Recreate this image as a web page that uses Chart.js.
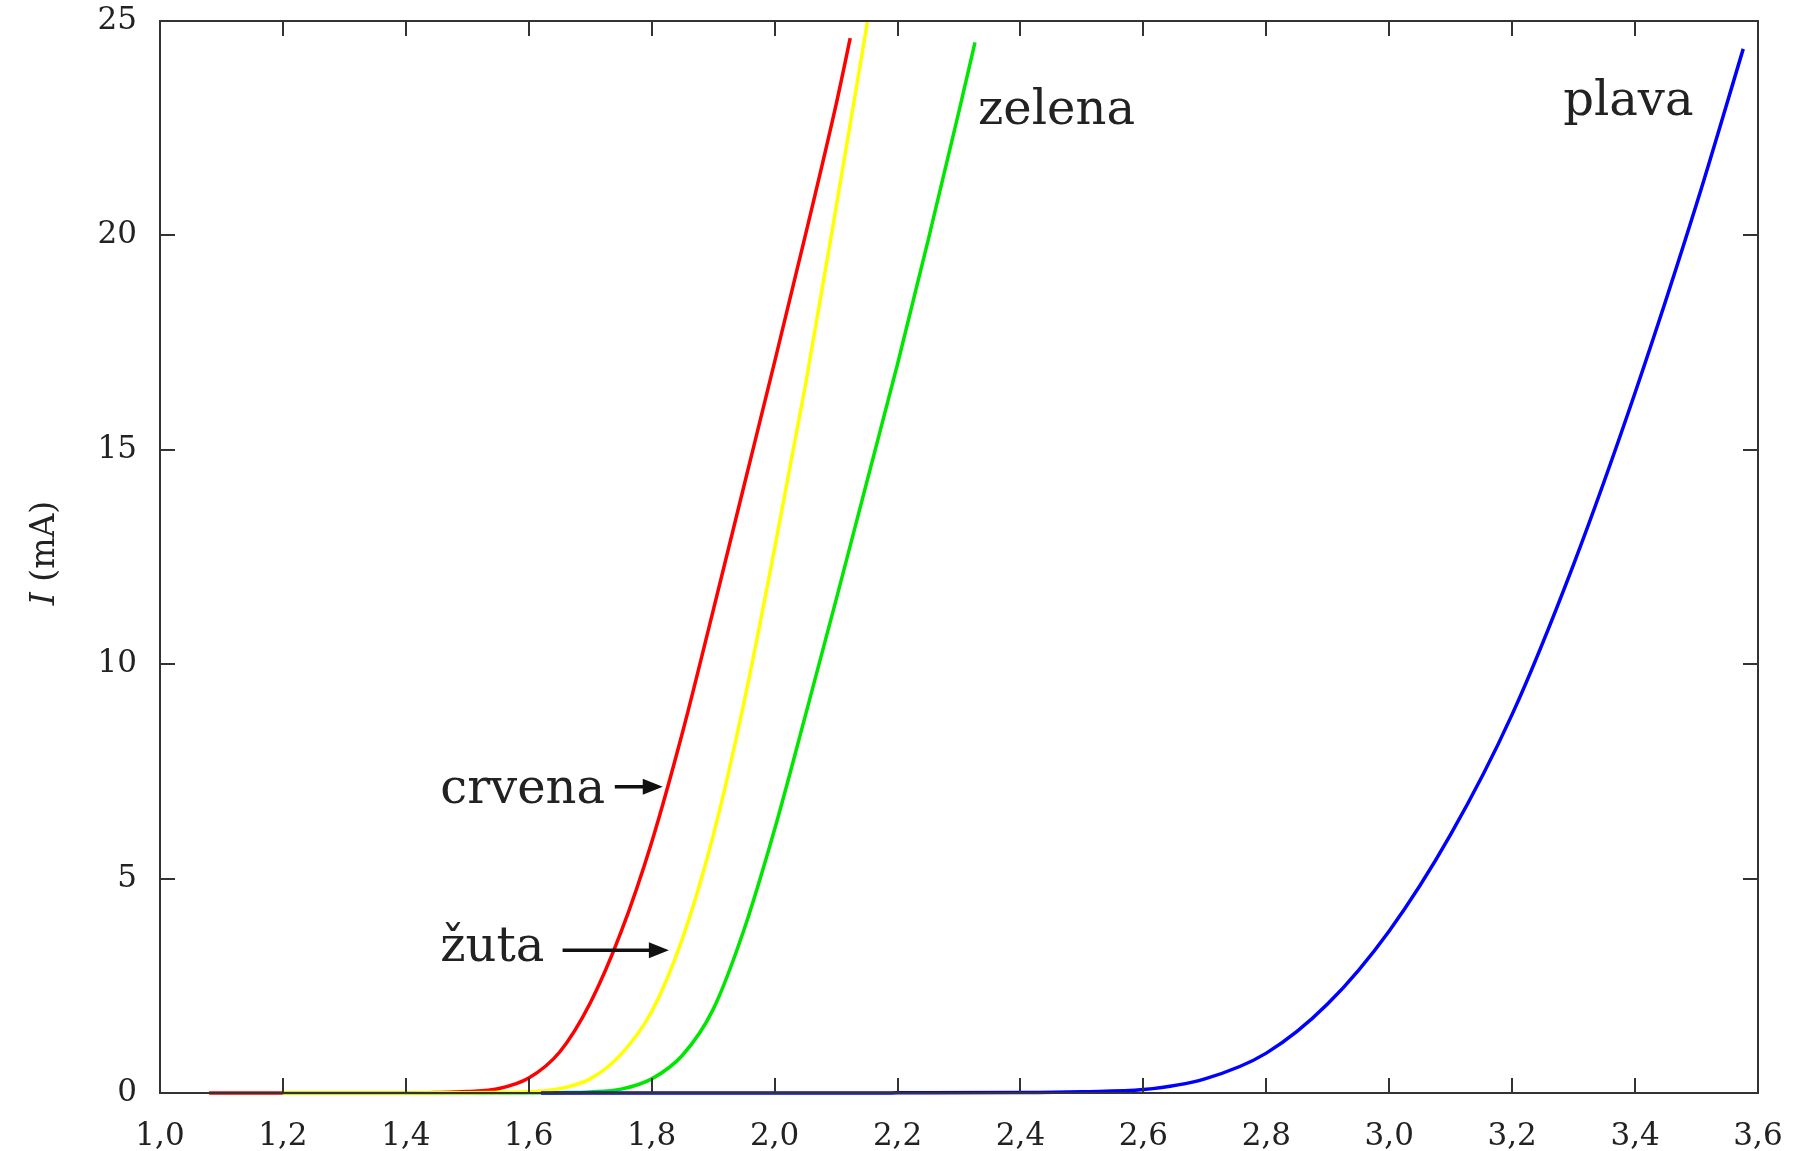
<!DOCTYPE html>
<html>
<head>
<meta charset="utf-8">
<script src="https://cdn.jsdelivr.net/npm/chart.js@4/dist/chart.umd.min.js"></script>
<style>
  body { margin: 0; background: #fff; }
  #wrap { width: 1793px; height: 1151px; }
</style>
</head>
<body>
<div id="wrap"><canvas id="ivChart"></canvas></div>
<script>
// U (V) / I (mA) readings for each LED
const redV = [1.08, 1.2, 1.3, 1.4, 1.45, 1.5, 1.55, 1.6, 1.65, 1.7, 1.75, 1.8, 1.85, 1.9, 1.95, 2.0, 2.05, 2.1, 2.123];
const redI = [0, 0, 0, 0.005, 0.012, 0.035, 0.1, 0.35, 0.95, 2.1, 3.75, 5.85, 8.4, 11.25, 14.15, 17.05, 20.0, 23.05, 24.6];

const yellowV = [1.2, 1.4, 1.5, 1.55, 1.6, 1.65, 1.7, 1.75, 1.8, 1.85, 1.9, 1.95, 2.0, 2.05, 2.1, 2.16];
const yellowI = [0, 0, 0.005, 0.012, 0.03, 0.1, 0.33, 0.9, 1.9, 3.6, 6.0, 9.1, 12.7, 16.5, 20.65, 25.75];

const greenV = [1.2, 1.5, 1.6, 1.65, 1.7, 1.75, 1.8, 1.85, 1.9, 1.95, 2.0, 2.05, 2.1, 2.15, 2.2, 2.25, 2.3, 2.326];
const greenI = [0, 0, 0.003, 0.008, 0.025, 0.09, 0.33, 0.88, 1.95, 3.8, 6.15, 8.8, 11.5, 14.25, 17.0, 19.9, 22.9, 24.5];

const blueV = [1.62, 2.0, 2.2, 2.4, 2.5, 2.6, 2.7, 2.8, 2.9, 3.0, 3.1, 3.2, 3.3, 3.4, 3.5, 3.576];
const blueI = [0, 0, 0.003, 0.01, 0.03, 0.08, 0.33, 0.93, 2.08, 3.78, 6.03, 8.83, 12.33, 16.33, 20.73, 24.35];

const xTicks = [1.0, 1.2, 1.4, 1.6, 1.8, 2.0, 2.2, 2.4, 2.6, 2.8, 3.0, 3.2, 3.4, 3.6];
const yTicks = [0, 5, 10, 15, 20, 25];

const SERIF = "'DejaVu Serif', serif";
const INK = "#222";

function pts(xs, ys) {
  return xs.map((x, i) => ({ x: x, y: ys[i] }));
}

function curve(label, xs, ys, color, order) {
  return {
    label: label,
    data: pts(xs, ys),
    borderColor: color,
    borderWidth: 3.5,
    pointRadius: 0,
    showLine: true,
    fill: false,
    cubicInterpolationMode: "monotone",
    clip: { left: 6, top: 0, right: 6, bottom: 6 },
    order: order,
  };
}

// frame, inward ticks, axis title and the curve labels
const decorations = {
  id: "decorations",
  afterDatasetsDraw(chart) {
    const ctx = chart.ctx;
    const a = chart.chartArea;
    const xs = chart.scales.x;
    const ys = chart.scales.y;
    const tl = 15;

    ctx.save();
    ctx.strokeStyle = "#333";
    ctx.lineWidth = 2;
    ctx.strokeRect(a.left, a.top, a.right - a.left, a.bottom - a.top);

    ctx.beginPath();
    xTicks.forEach((v) => {
      const px = Math.round(xs.getPixelForValue(v));
      ctx.moveTo(px, a.bottom);
      ctx.lineTo(px, a.bottom - tl);
      ctx.moveTo(px, a.top);
      ctx.lineTo(px, a.top + tl);
    });
    yTicks.forEach((v) => {
      const py = Math.round(ys.getPixelForValue(v));
      ctx.moveTo(a.left, py);
      ctx.lineTo(a.left + tl, py);
      ctx.moveTo(a.right, py);
      ctx.lineTo(a.right - tl, py);
    });
    ctx.stroke();
    ctx.restore();
  },
  afterDraw(chart) {
    const ctx = chart.ctx;
    const a = chart.chartArea;
    const xs = chart.scales.x;
    const ys = chart.scales.y;

    ctx.save();
    ctx.fillStyle = INK;

    // y axis title, rotated
    ctx.save();
    ctx.translate(45, (a.top + a.bottom) / 2 - 4);
    ctx.rotate(-Math.PI / 2);
    ctx.textBaseline = "middle";
    ctx.font = "italic 33px " + SERIF;
    const wI = ctx.measureText("I").width;
    ctx.font = "33px " + SERIF;
    const wRest = ctx.measureText(" (mA)").width;
    const x0 = -(wI + wRest) / 2;
    ctx.font = "italic 33px " + SERIF;
    ctx.textAlign = "left";
    ctx.fillText("I", x0, 0);
    ctx.font = "33px " + SERIF;
    ctx.fillText(" (mA)", x0 + wI, 0);
    ctx.restore();

    // curve labels
    const notes = [
      { text: "zelena", x: 2.331, y: 22.6 },
      { text: "plava", x: 3.283, y: 22.8 },
      { text: "crvena", x: 1.456, y: 6.76 },
      { text: "žuta", x: 1.456, y: 3.08 },
    ];
    ctx.font = "48px " + SERIF;
    ctx.textAlign = "left";
    ctx.textBaseline = "alphabetic";
    notes.forEach((n) => {
      ctx.fillText(n.text, xs.getPixelForValue(n.x), ys.getPixelForValue(n.y));
    });

    // arrows pointing at the red and yellow curves
    const arrows = [
      { x1: 1.74, x2: 1.818, y: 7.14 },
      { x1: 1.655, x2: 1.828, y: 3.33 },
    ];
    ctx.strokeStyle = "#111";
    ctx.fillStyle = "#111";
    ctx.lineWidth = 3.5;
    arrows.forEach((r) => {
      const p1 = xs.getPixelForValue(r.x1);
      const p2 = xs.getPixelForValue(r.x2);
      const py = ys.getPixelForValue(r.y);
      ctx.beginPath();
      ctx.moveTo(p1, py);
      ctx.lineTo(p2 - 12, py);
      ctx.stroke();
      ctx.beginPath();
      ctx.moveTo(p2, py);
      ctx.lineTo(p2 - 20, py - 8);
      ctx.lineTo(p2 - 20, py + 8);
      ctx.closePath();
      ctx.fill();
    });
    ctx.restore();
  },
};

new Chart(document.getElementById("ivChart"), {
  type: "scatter",
  data: {
    datasets: [
      curve("crvena", redV, redI, "#ff0000", 3),
      curve("zelena", greenV, greenI, "#00e600", 2),
      curve("žuta", yellowV, yellowI, "#ffff00", 1),
      curve("plava", blueV, blueI, "#0000ff", 0),
    ],
  },
  options: {
    responsive: true,
    maintainAspectRatio: false,
    animation: false,
    layout: { padding: { top: 21, right: 35, left: 0, bottom: 0 } },
    plugins: {
      legend: { display: false },
      tooltip: { enabled: false },
    },
    scales: {
      x: {
        type: "linear",
        min: 1.0,
        max: 3.6,
        grid: { display: false, drawTicks: false },
        border: { display: false },
        afterBuildTicks: (s) => { s.ticks = xTicks.map((v) => ({ value: v })); },
        afterFit: (s) => {
          s.height = 58;
          s.paddingLeft = 0;
          s.paddingRight = 0;
        },
        ticks: {
          padding: 25,
          maxRotation: 0,
          autoSkip: false,
          color: INK,
          font: { family: SERIF, size: 31 },
          callback: (v) => Number(v).toFixed(1).replace(".", ","),
        },
      },
      y: {
        type: "linear",
        min: 0,
        max: 25,
        grid: { display: false, drawTicks: false },
        border: { display: false },
        afterBuildTicks: (s) => { s.ticks = yTicks.map((v) => ({ value: v })); },
        afterFit: (s) => {
          s.width = 160;
          s.paddingTop = 0;
          s.paddingBottom = 0;
        },
        ticks: {
          padding: 23,
          color: INK,
          font: { family: SERIF, size: 31 },
        },
      },
    },
  },
  plugins: [decorations],
});
</script>
</body>
</html>
